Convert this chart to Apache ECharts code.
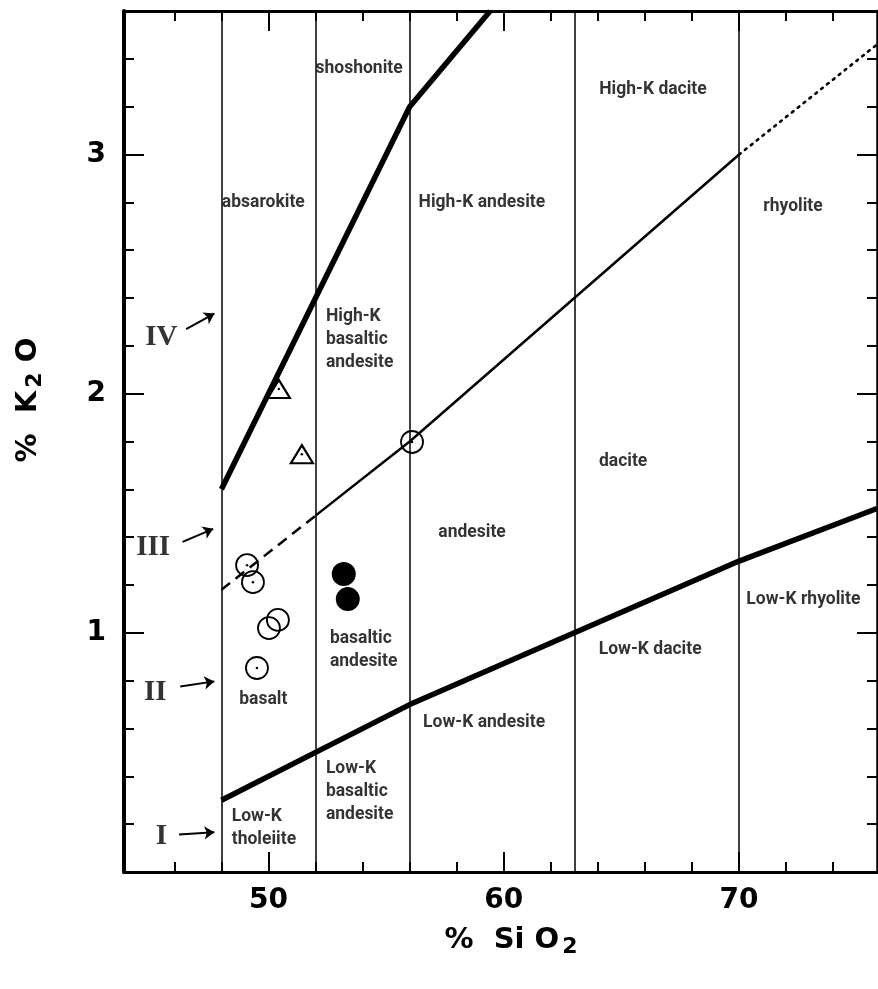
<!DOCTYPE html>
<html>
<head>
<meta charset="utf-8">
<script src="https://cdn.jsdelivr.net/npm/echarts@6/dist/echarts.min.js"></script>
<style>
html,body{margin:0;padding:0;background:#fff;}
#chart{width:878px;height:989px;}
</style>
</head>
<body>
<div id="chart"></div>
<script>
// ---------- data ----------
const xMajorTicks = [50, 60, 70];
const xMinorTicks = [46, 48, 50, 52, 54, 56, 58, 60, 62, 64, 66, 68, 70, 72, 74];
const yMajorTicks = [1, 2, 3];

const dividerSiO2 = [48, 52, 56, 63, 70];

const shoshoniteBoundary = [[48, 1.6], [56, 3.2], [59.42, 3.6]];
const highKDashed = [[48, 1.18], [52, 1.49]];
const highKSolid = [[52, 1.49], [56, 1.8], [63, 2.4], [70, 3.0]];
const highKDotted = [[70, 3.0], [75.86, 3.46]];
const lowKBoundary = [[48, 0.3], [52, 0.5], [56, 0.7], [63, 1.0], [70, 1.3], [75.86, 1.52]];

const openCirclesDotted = [[49.09, 1.283], [49.34, 1.212], [49.51, 0.853], [56.1, 1.798]];
const openCirclesPlain = [[50.40, 1.054], [50.02, 1.020]];
const openTriangles = [[50.44, 2.02], [51.42, 1.747]];
const filledCircles = [[53.2, 1.246], [53.37, 1.141]];

const regionNames = [
  'shoshonite', 'High-K dacite', 'absarokite', 'High-K andesite', 'rhyolite',
  'High-K\nbasaltic\nandesite', 'dacite', 'andesite', 'basaltic\nandesite', 'basalt',
  'Low-K dacite', 'Low-K rhyolite', 'Low-K andesite', 'Low-K\nbasaltic\nandesite', 'Low-K\ntholeiite'
];
const seriesNumerals = ['IV', 'III', 'II', 'I'];

// ---------- annotation placement (data coords) ----------
const regionAnchors = [
  [53.85, 3.36, 'center'], [66.34, 3.27, 'center'], [49.78, 2.80, 'center'], [59.07, 2.80, 'center'], [72.29, 2.78, 'center'],
  [52.44, 2.224, 'left'], [65.07, 1.714, 'center'], [58.65, 1.421, 'center'], [52.61, 0.926, 'left'], [49.78, 0.719, 'center'],
  [66.22, 0.928, 'center'], [72.73, 1.137, 'center'], [56.57, 0.623, 'left'], [52.44, 0.334, 'left'], [48.44, 0.184, 'left']
];
const numeralAnchors = [[45.45, 2.236], [45.10, 1.355], [45.19, 0.75], [45.45, 0.148]];
const arrowCoords = [
  [[46.5, 2.27], [47.7, 2.335]],
  [[46.35, 1.38], [47.65, 1.435]],
  [[46.25, 0.776], [47.7, 0.797]],
  [[46.2, 0.157], [47.7, 0.166]]
];

// ---------- chart ----------
const X_MIN = 43.86, X_MAX = 75.86, Y_MIN = 0, Y_MAX = 3.6;
const chart = echarts.init(document.getElementById('chart'), null, {renderer: 'canvas'});
const black = '#000';
const tickFont = 'DejaVu Sans';
const labelFont = 'Roboto';

function xAxisDef(pos, major, showLine) {
  return {
    type: 'value', position: pos, min: X_MIN, max: X_MAX,
    axisLine: {show: showLine, onZero: false, lineStyle: {color: black, width: 3}},
    axisTick: {show: true, inside: true, length: major ? 20 : 10, customValues: major ? xMajorTicks : xMinorTicks,
      lineStyle: {color: black, width: 2}},
    axisLabel: {show: major && pos === 'bottom', customValues: xMajorTicks, margin: 15,
      color: black, fontSize: 28, fontWeight: 'bold', fontFamily: tickFont},
    splitLine: {show: false}
  };
}
function yAxisDef(pos, major, showLine, lw) {
  return {
    type: 'value', position: pos, min: Y_MIN, max: Y_MAX, interval: major ? 1 : 0.2,
    axisLine: {show: showLine, onZero: false, lineStyle: {color: black, width: lw}},
    axisTick: {show: true, inside: true, length: major ? 20 : 10, lineStyle: {color: black, width: 2}},
    axisLabel: {show: major && pos === 'left', margin: 18, color: black, fontSize: 28, fontWeight: 'bold', fontFamily: tickFont,
      formatter: v => (yMajorTicks.indexOf(Math.round(v * 10) / 10) >= 0 ? String(Math.round(v)) : '')},
    splitLine: {show: false}
  };
}

const lineBase = {type: 'line', showSymbol: false, symbol: 'none', silent: true, animation: false, z: 3};

const series = [
  // dividers
  {type: 'line', data: [], silent: true, animation: false,
    markLine: {silent: true, symbol: ['none', 'none'], label: {show: false}, animation: false,
      lineStyle: {color: black, width: 1.5, type: 'solid', opacity: 1},
      data: dividerSiO2.map(v => ({xAxis: v}))}},
  Object.assign({}, lineBase, {data: shoshoniteBoundary, lineStyle: {color: black, width: 5.5}}),
  Object.assign({}, lineBase, {data: highKDashed, lineStyle: {color: black, width: 2.5, type: [11, 7]}}),
  Object.assign({}, lineBase, {data: highKSolid, lineStyle: {color: black, width: 2.5}}),
  Object.assign({}, lineBase, {data: highKDotted, lineStyle: {color: black, width: 2.6, type: [2, 5.5], cap: 'round'}}),
  Object.assign({}, lineBase, {data: lowKBoundary, lineStyle: {color: black, width: 5.5}}),
  // markers
  {type: 'scatter', data: openCirclesDotted.concat(openCirclesPlain), symbol: 'circle', symbolSize: 22, z: 5, silent: true, animation: false,
    itemStyle: {color: 'rgba(0,0,0,0)', borderColor: black, borderWidth: 1.8, opacity: 1}},
  {type: 'scatter', data: openTriangles, symbol: 'triangle', symbolSize: [22, 18], z: 5, silent: true, animation: false,
    itemStyle: {color: 'rgba(0,0,0,0)', borderColor: black, borderWidth: 2.2, opacity: 1}},
  {type: 'scatter', data: openCirclesDotted.concat(openTriangles), symbol: 'circle', symbolSize: 2.5, z: 6, silent: true, animation: false,
    itemStyle: {color: black, opacity: 1}},
  {type: 'scatter', data: filledCircles, symbol: 'circle', symbolSize: 24, z: 5, silent: true, animation: false,
    itemStyle: {color: black, opacity: 1}},
  // region labels
  {type: 'scatter', symbolSize: 0, silent: true, animation: false, z: 7,
    data: regionNames.map((n, i) => ({
      value: [regionAnchors[i][0], regionAnchors[i][1]],
      label: {show: true, position: 'inside', formatter: n, align: regionAnchors[i][2], verticalAlign: 'middle',
        color: black, fontSize: 17.5, fontWeight: 'bold', fontFamily: labelFont, lineHeight: 23}
    }))},
  // series numerals
  {type: 'scatter', symbolSize: 0, silent: true, animation: false, z: 7,
    data: seriesNumerals.map((n, i) => ({
      value: numeralAnchors[i],
      label: {show: true, position: 'inside', formatter: n, color: black, fontSize: 29,
        fontFamily: 'Liberation Serif', fontWeight: 'bold'}
    }))},
  // arrows
  {type: 'lines', coordinateSystem: 'cartesian2d', silent: true, animation: false, z: 7,
    symbol: ['none', 'arrow'], symbolSize: 10,
    lineStyle: {color: black, width: 2, opacity: 1},
    data: arrowCoords.map(c => ({coords: c}))}
];

chart.setOption({
  backgroundColor: '#fff',
  animation: false,
  grid: {left: 124, right: 1, top: 11, bottom: 117, containLabel: false},
  xAxis: [xAxisDef('bottom', false, true), xAxisDef('bottom', true, false), xAxisDef('top', false, true), xAxisDef('top', true, false)],
  yAxis: [yAxisDef('left', false, true, 4), yAxisDef('left', true, false, 4), yAxisDef('right', false, true, 2.5), yAxisDef('right', true, false, 2.5)],
  series: series,
  graphic: [
    {type: 'text', x: 511, y: 940, style: {
      text: '{a|%  Si O}{b|2}', align: 'center', verticalAlign: 'middle',
      rich: {
        a: {fontSize: 29, fontWeight: 'bold', fontFamily: tickFont, fill: black},
        b: {fontSize: 22, fontWeight: 'bold', fontFamily: tickFont, fill: black, padding: [14, 0, 0, 3]}
      }}},
    {type: 'text', x: 28, y: 400, rotation: Math.PI / 2, style: {
      text: '{a|%  K}{b|2}{a| O}', align: 'center', verticalAlign: 'middle',
      rich: {
        a: {fontSize: 29, fontWeight: 'bold', fontFamily: tickFont, fill: black},
        b: {fontSize: 22, fontWeight: 'bold', fontFamily: tickFont, fill: black, padding: [14, 0, 0, 3]}
      }}}
  ]
});
</script>
</body>
</html>
